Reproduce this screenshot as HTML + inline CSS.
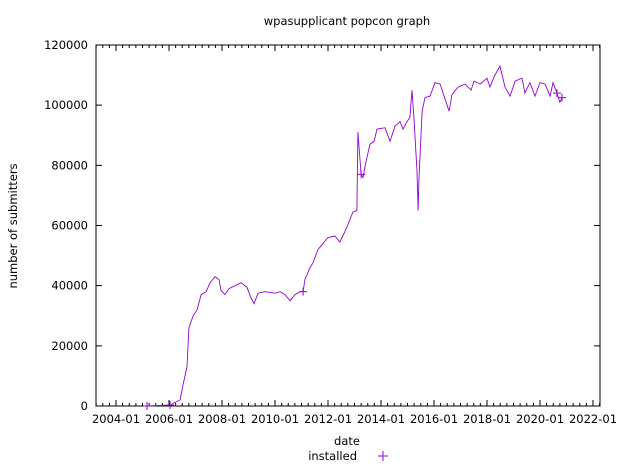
<!DOCTYPE html>
<html><head><meta charset="utf-8"><style>
body{margin:0;background:#fff}
svg{display:block;font-family:"DejaVu Sans","Liberation Sans",sans-serif}
</style></head><body>
<svg id="chart" width="625" height="469" viewBox="0 0 625 469">
<text x="347" y="25" font-size="11.5" text-anchor="middle">wpasupplicant popcon graph</text>
<rect x="96" y="45" width="504" height="361" fill="none" stroke="#000" stroke-width="1"/>
<g id="axes"></g>
<path id="line" fill="none" stroke="#9400d3" stroke-width="0.9"/>
<g id="marks"></g>
<text x="347" y="445" font-size="11.5" text-anchor="middle">date</text>
<text transform="translate(17,226) rotate(-90)" font-size="11.5" text-anchor="middle">number of submitters</text>
<g>
<text x="357" y="460" font-size="11.5" text-anchor="end">installed</text>
<path d="M378 456h10M383 451v10" stroke="#9400d3" stroke-width="1"/>
</g>
</svg>
<script>
const dates=[2005.17,2006.04,2006.23,2006.42,2006.53,2006.68,2006.75,2006.91,2007.06,2007.21,2007.40,2007.55,2007.74,2007.89,2007.96,2008.11,2008.26,2008.49,2008.72,2008.94,2009.09,2009.21,2009.36,2009.62,2010.0,2010.19,2010.38,2010.57,2010.75,2010.94,2011.06,2011.13,2011.32,2011.43,2011.62,2011.81,2012.0,2012.26,2012.45,2012.64,2012.83,2012.94,2013.09,2013.13,2013.25,2013.32,2013.43,2013.58,2013.74,2013.85,2014.15,2014.34,2014.53,2014.72,2014.83,2014.98,2015.09,2015.17,2015.25,2015.36,2015.40,2015.43,2015.55,2015.66,2015.85,2016.04,2016.23,2016.42,2016.57,2016.68,2016.91,2017.17,2017.40,2017.51,2017.74,2018.0,2018.11,2018.30,2018.49,2018.68,2018.87,2019.06,2019.32,2019.43,2019.62,2019.81,2020.0,2020.19,2020.38,2020.49,2020.64,2020.75,2020.83];
const installed=[0,300,1200,2000,7000,13000,26000,30000,32000,37000,38000,41000,43000,42000,38500,37000,39000,40000,41000,39500,36000,34000,37500,38000,37500,38000,37000,35000,37000,38000,38000,42000,46000,47500,52000,54000,56000,56500,54500,58000,62000,64500,65000,91000,77000,76000,81000,87000,88000,92000,92500,88000,93000,94500,92000,94500,96000,105000,95000,78000,65000,75000,98000,102500,103000,107500,107000,102000,98000,103500,106000,107000,105000,108000,107000,109000,106000,110000,113000,106000,103000,108000,109000,104000,107500,103000,107500,107000,103000,107500,104000,101000,102500];
const markerIdx=[0,1,30,44,90,92];
const yTicks=[0,20000,40000,60000,80000,100000,120000];
const xTicks=[2004,2006,2008,2010,2012,2014,2016,2018,2020,2022];
const L=96,R=600,T=45,B=406;
const X=y=>116+(y-2004)*26.5;
const Y=v=>B-v*(B-T)/120000;
const ns="http://www.w3.org/2000/svg";
const ax=document.getElementById('axes');
function mk(tag,attrs,parent){const e=document.createElementNS(ns,tag);for(const k in attrs)e.setAttribute(k,attrs[k]);parent.appendChild(e);return e;}
yTicks.forEach(v=>{
 const t=mk('path',{d:`M${L} ${Y(v)}h6M${R} ${Y(v)}h-6`,stroke:'#000'},ax);
 
 
 const l=mk('text',{x:L-8,y:Y(v)+4,'font-size':11.5,'text-anchor':'end'},ax);
 l.textContent=v;
 
 
});
for(let q=2003.25;q<=2022.75;q+=0.25){
 const x=X(q); if(x<L||x>R)continue;
 const major=Math.abs(q-Math.round(q))<0.01&&Math.round(q)%2===0;
 const h=major?6:3;
 const t=mk('path',{d:`M${x} ${B}v-${h}M${x} ${T}v${h}`,stroke:'#000'},ax);
 
 
}
xTicks.forEach(y=>{
 const l=mk('text',{x:X(y),y:B+17,'font-size':11.5,'text-anchor':'middle'},ax);
 l.textContent=y+'-01';
 
 
});
document.getElementById('line').setAttribute('d',dates.map((d,i)=>(i?'L':'M')+X(d).toFixed(1)+' '+Y(installed[i]).toFixed(1)).join(''));
const mg=document.getElementById('marks');
markerIdx.forEach(i=>{
 const x=X(dates[i]),y=Y(installed[i]);
 const m=mk('path',{d:`M${x-4} ${y}h8M${x} ${y-4}v8`,stroke:'#9400d3'},mg);
 
 
});
</script>
</body></html>
